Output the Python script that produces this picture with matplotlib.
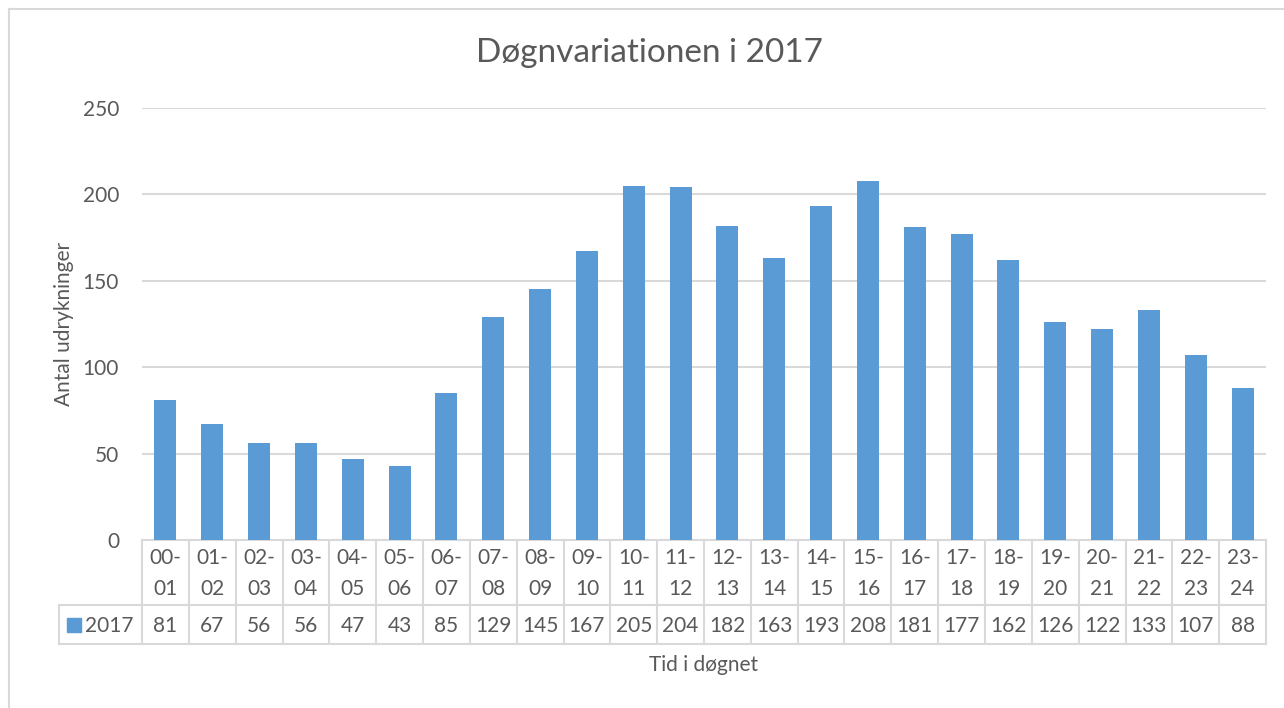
import matplotlib
matplotlib.use("Agg")
import matplotlib.pyplot as plt
import matplotlib.transforms as mtransforms
from matplotlib.patches import Rectangle
from matplotlib.lines import Line2D

plt.rcParams['font.family'] = ['Lato', 'DejaVu Sans']

# antal udrykninger pr. time i døgnet, 2017
timer = ["00-\n01", "01-\n02", "02-\n03", "03-\n04", "04-\n05", "05-\n06",
         "06-\n07", "07-\n08", "08-\n09", "09-\n10", "10-\n11", "11-\n12",
         "12-\n13", "13-\n14", "14-\n15", "15-\n16", "16-\n17", "17-\n18",
         "18-\n19", "19-\n20", "20-\n21", "21-\n22", "22-\n23", "23-\n24"]
udrykninger = [81, 67, 56, 56, 47, 43, 85, 129, 145, 167, 205, 204,
               182, 163, 193, 208, 181, 177, 162, 126, 122, 133, 107, 88]
serie = "2017"
yticks = [0, 50, 100, 150, 200, 250]

BLUE = "#5B9BD5"
GRID = "#D9D9D9"
TXT = "#595959"

W, H = 1284, 708
fig = plt.figure(figsize=(W / 100, H / 100), dpi=100)
ax = fig.add_axes([142 / W, 1 - 540 / H, (1266 - 142) / W, (540 - 108) / H])

x = list(range(len(udrykninger)))
ax.bar(x, udrykninger, width=0.47, color=BLUE, zorder=3)

ax.set_xlim(-0.5, len(x) - 0.5)
ax.set_ylim(0, 250)
ax.set_yticks(yticks)
ax.set_xticks([])
ax.tick_params(axis='y', length=0, pad=16.5, labelsize=15, labelcolor=TXT)
for s in ax.spines.values():
    s.set_visible(False)
for v in yticks[1:]:
    ax.axhline(v, color=GRID, lw=1.5, zorder=1)

ax.set_ylabel("Antal udrykninger", fontsize=15, color=TXT, labelpad=6)

# datatabel under akserne
tr = mtransforms.blended_transform_factory(ax.transData, ax.transAxes)
row1 = -65 / 432
row2 = -104 / 432
lk = dict(color=GRID, lw=1.5, clip_on=False, transform=tr, zorder=2)
ax.add_line(Line2D([-0.5, len(x) - 0.5], [0, 0], **lk))
ax.add_line(Line2D([-2.28, len(x) - 0.5], [row1, row1], **lk))
ax.add_line(Line2D([-2.28, len(x) - 0.5], [row2, row2], **lk))
ax.add_line(Line2D([-2.28, -2.28], [row1, row2], **lk))
for i in range(len(x) + 1):
    ax.add_line(Line2D([i - 0.5, i - 0.5], [0, row2], **lk))

for i, (t, v) in enumerate(zip(timer, udrykninger)):
    ax.text(i, row1 / 2 - 1 / 432, t, transform=tr, ha='center', va='center',
            fontsize=15, color=TXT, linespacing=1.7)
    ax.text(i, (row1 + row2) / 2 - 2 / 432, str(v), transform=tr,
            ha='center', va='center', fontsize=15, color=TXT)

# legende i tabellens første celle
ax.add_patch(Rectangle((-2.1, -92 / 432), 0.3, 14 / 432, transform=tr,
                       color=BLUE, clip_on=False))
ax.text(-1.72, (row1 + row2) / 2 - 2 / 432, serie, transform=tr, ha='left',
        va='center', fontsize=15, color=TXT)

ax.text(0.5, -125 / 432, "Tid i døgnet", transform=ax.transAxes,
        ha='center', va='center', fontsize=15, color=TXT)

fig.text(650 / W, 1 - 53 / H, "Døgnvariationen i 2017",
         ha='center', va='center', fontsize=24, color=TXT)

# ramme om diagrammet
fig.add_artist(Line2D([9 / W, 9 / W], [0, 1 - 9 / H], color=GRID, lw=1.5))
fig.add_artist(Line2D([9 / W, 1], [1 - 9 / H, 1 - 9 / H], color=GRID, lw=1.5))

fig.savefig("out.png", dpi=100)
